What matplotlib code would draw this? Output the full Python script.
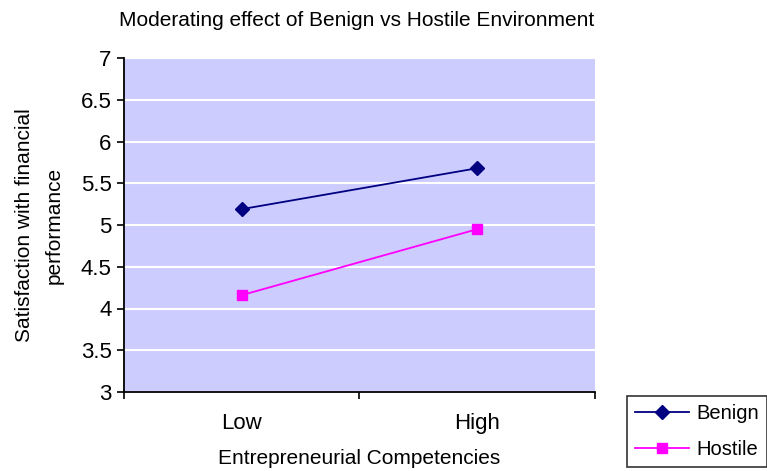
import matplotlib
matplotlib.use("Agg")
import matplotlib.pyplot as plt

categories = ["Low", "High"]
benign = [5.19, 5.68]
hostile = [4.16, 4.95]
y_ticks = [3, 3.5, 4, 4.5, 5, 5.5, 6, 6.5, 7]

plt.rcParams["font.family"] = ["Liberation Sans", "DejaVu Sans"]

fig = plt.figure(figsize=(7.67, 4.71), dpi=100)
ax = fig.add_axes([124 / 767, 1 - 392 / 471, 471 / 767, 334 / 471])
ax.set_facecolor("#CCCCFF")

x = [0.5, 1.5]
ax.plot(x, benign, color="#000080", marker="D", markersize=7, linewidth=1.3, label="Benign")
ax.plot(x, hostile, color="#FF00FF", marker="s", markersize=7, linewidth=1.3, label="Hostile")

ax.set_xlim(0, 2)
ax.set_ylim(3, 7)
ax.set_yticks(y_ticks)
ax.set_yticklabels([f"{v:g}" for v in y_ticks], fontsize=16)
ax.set_xticks([0, 1, 2])
ax.set_xticklabels([])
ax.set_xticks(x, minor=True)
ax.set_xticklabels(categories, minor=True, fontsize=16)
ax.tick_params(axis="x", which="minor", length=0, pad=15)
ax.tick_params(axis="x", which="major", length=5, width=1.2, direction="out")
ax.tick_params(axis="y", length=5, width=1.2, direction="out", pad=4)

ax.yaxis.grid(True, color="white", linewidth=1.5)
ax.set_axisbelow(True)
for side in ("top", "right"):
    ax.spines[side].set_visible(False)
for side in ("left", "bottom"):
    ax.spines[side].set_linewidth(1.3)

ax.set_ylabel("Satisfaction with financial\nperformance", fontsize=15, labelpad=12,
              linespacing=1.75)
ax.set_xlabel("Entrepreneurial Competencies", fontsize=15, labelpad=11)
fig.text(357 / 767, 1 - 20 / 471, "Moderating effect of Benign vs Hostile Environment",
         fontsize=15, ha="center", va="center")

leg = fig.legend(loc="lower left", bbox_to_anchor=(627 / 767, 1 - 467 / 471),
                 fontsize=14.5, frameon=True, fancybox=False, edgecolor="black",
                 handlelength=2.7, borderpad=0.4, labelspacing=0.85, handletextpad=0.35,
                 borderaxespad=0)
leg.get_frame().set_linewidth(1.2)

fig.savefig("out.png", dpi=100)
